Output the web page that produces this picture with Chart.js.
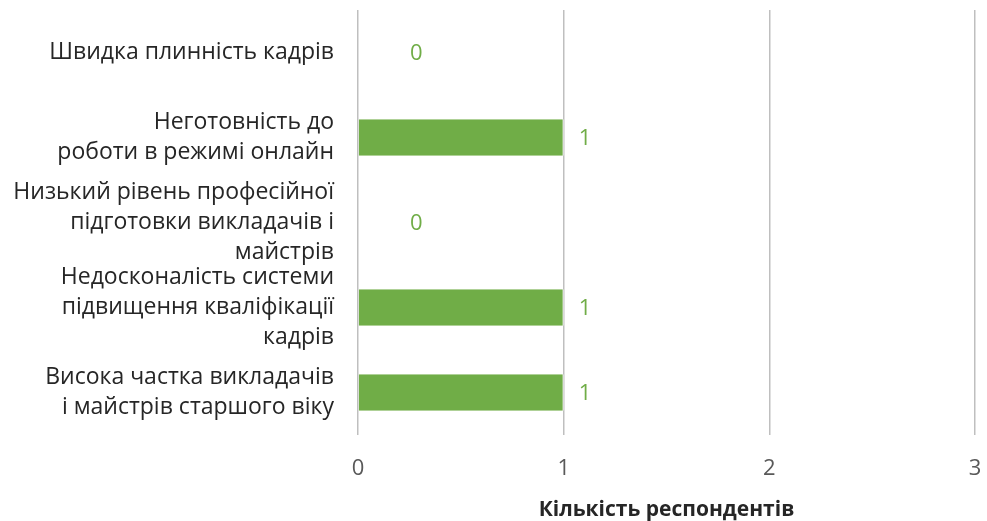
<!DOCTYPE html>
<html>
<head>
<meta charset="utf-8">
<script src="https://cdn.jsdelivr.net/npm/chart.js@4"></script>
<style>
    html, body { margin: 0; padding: 0; background: #fff; }
    #wrap { width: 987px; height: 521px; }
</style>
</head>
<body>
<div id="wrap"><canvas id="chart" width="987" height="521"></canvas></div>
<script>
// Categories, top to bottom
const categories = [
    ['Швидка плинність кадрів'],
    ['Неготовність до', 'роботи в режимі онлайн'],
    ['Низький рівень професійної', 'підготовки викладачів і', 'майстрів'],
    ['Недосконалість системи', 'підвищення кваліфікації', 'кадрів'],
    ['Висока частка викладачів', 'і майстрів старшого віку']
];
const respondents = [0, 1, 0, 1, 1];
const xTicks = [0, 1, 2, 3];
const axisTitle = 'Кількість респондентів';

const green = '#70ad47';

// value labels next to the bars
const valueLabels = {
    id: 'valueLabels',
    afterDatasetsDraw(chart) {
        const ctx = chart.ctx;
        const meta = chart.getDatasetMeta(0);
        ctx.save();
        ctx.font = '22px "Open Sans"';
        ctx.fillStyle = green;
        ctx.textAlign = 'left';
        ctx.textBaseline = 'middle';
        meta.data.forEach((bar, i) => {
            const v = respondents[i];
            const offset = v === 0 ? 52 : 15;
            ctx.fillText(String(v), bar.x + offset, bar.y + 1);
        });
        ctx.restore();
    }
};

new Chart(document.getElementById('chart'), {
    type: 'bar',
    data: {
        labels: categories,
        datasets: [{
            data: respondents,
            backgroundColor: green,
            borderColor: '#ffffff',
            borderWidth: { right: 1 },
            borderSkipped: 'start',
            barPercentage: 0.43,
            categoryPercentage: 1
        }]
    },
    options: {
        indexAxis: 'y',
        responsive: false,
        animation: false,
        layout: {
            padding: { top: 10, right: 12, bottom: 0, left: 0 }
        },
        plugins: {
            legend: { display: false },
            tooltip: { enabled: false }
        },
        scales: {
            x: {
                min: 0,
                max: 3,
                afterBuildTicks: (scale) => {
                    scale.ticks = xTicks.map(v => ({ value: v }));
                },
                afterFit: (scale) => {
                    scale.height = 86;
                    scale.paddingLeft = 0;
                    scale.paddingRight = 0;
                },
                grid: {
                    color: '#bfbfbf',
                    lineWidth: 1.5,
                    drawTicks: false
                },
                border: { display: false },
                ticks: {
                    padding: 21,
                    color: '#595959',
                    font: { family: 'Open Sans', size: 22 }
                },
                title: {
                    display: true,
                    text: axisTitle,
                    color: '#262626',
                    font: { family: 'Open Sans', size: 21, weight: 'bold' },
                    padding: { top: 12, bottom: -2 }
                }
            },
            y: {
                afterFit: (scale) => {
                    scale.width = 358;
                    scale.paddingTop = 0;
                    scale.paddingBottom = 0;
                },
                grid: { display: false, drawTicks: false },
                border: { display: false },
                ticks: {
                    autoSkip: false,
                    padding: 24,
                    color: '#262626',
                    font: { family: 'Open Sans', size: 23, lineHeight: 1.3 }
                }
            }
        }
    },
    plugins: [valueLabels]
});
</script>
</body>
</html>
